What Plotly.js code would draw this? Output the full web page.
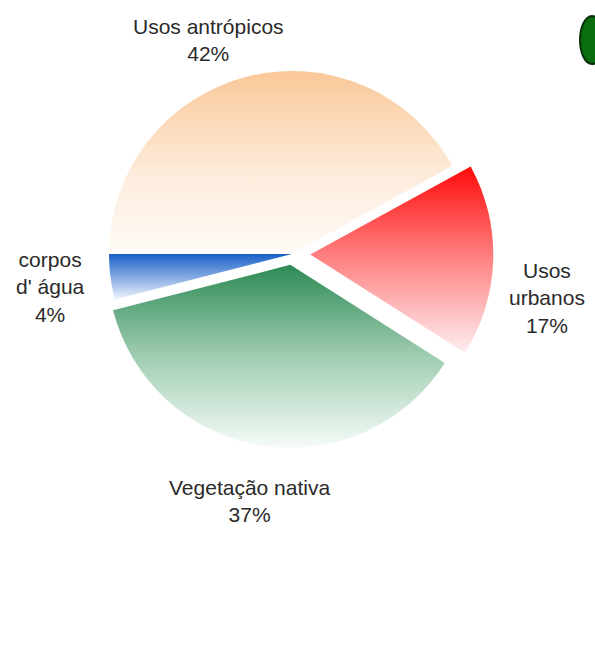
<!DOCTYPE html>
<html>
<head>
<meta charset="utf-8">
<script src="https://cdn.plot.ly/plotly-3.0.1.min.js"></script>
<style>html,body{margin:0;padding:0;background:#fff;}#chart{width:595px;height:645px;}</style>
</head>
<body>
<div id="chart"></div>
<script>
// Data
const categories = ["Usos antrópicos", "Usos urbanos", "Vegetação nativa", "corpos d' água"];
const labelTexts = ["Usos antrópicos", "Usos<br>urbanos", "Vegetação nativa", "corpos<br>d' água"];
const values = [42, 17, 37, 4];
const percentLabels = ["42%", "17%", "37%", "4%"];

// Styling
const baseColors = ["#F9C794", "#FF1010", "#2F8C58", "#1E5FC8"];
const gradients = [
  [[0, "rgb(249,200,152)"], [0.55, "rgb(253,235,218)"], [1, "rgb(255,251,247)"]],
  [[0, "rgb(255,10,10)"], [0.45, "rgb(255,120,120)"], [1, "rgb(255,238,241)"]],
  [[0, "rgb(44,138,84)"], [0.5, "rgb(160,205,178)"], [1, "rgb(246,251,248)"]],
  [[0, "rgb(25,95,200)"], [1, "rgb(238,244,252)"]]
];

const W = 595, H = 645;
const cx = 292, cy = 254, r = 183, maxPull = 0.1;
const half = r * (1 + maxPull);

const trace = {
  type: "pie",
  labels: categories,
  values: values,
  sort: false,
  direction: "clockwise",
  rotation: -90,
  pull: [0, 0.1, 0.06, 0],
  textinfo: "none",
  hoverinfo: "label+percent",
  marker: { colors: baseColors, line: { width: 0 } },
  domain: {
    x: [(cx - half) / W, (cx + half) / W],
    y: [1 - (cy + half) / H, 1 - (cy - half) / H]
  },
  showlegend: false
};

const labelPos = [[209, 40], [547, 298], [249, 501], [50, 287]];
const annotations = labelTexts.map((t, i) => ({
  text: t + "<br>" + percentLabels[i],
  xref: "paper", yref: "paper",
  x: labelPos[i][0] / W, y: 1 - labelPos[i][1] / H,
  xanchor: "center", yanchor: "middle",
  showarrow: false,
  align: "center",
  font: { family: "Liberation Sans, Arial, sans-serif", size: 21, color: "#2a2a2a" }
}));

const layout = {
  width: W, height: H,
  margin: { l: 0, r: 0, t: 0, b: 0 },
  paper_bgcolor: "#ffffff",
  annotations: annotations,
  shapes: [{
    type: "circle", xref: "paper", yref: "paper",
    x0: 580 / W, x1: 604 / W, y0: 1 - 64 / H, y1: 1 - 16 / H,
    fillcolor: "#0a6e0e", line: { color: "#083008", width: 2 }
  }]
};

function applyGradients() {
  const svg = document.querySelector("#chart .main-svg");
  if (!svg) return;
  let defs = svg.querySelector("defs#pieGrads");
  if (!defs) {
    defs = document.createElementNS("http://www.w3.org/2000/svg", "defs");
    defs.setAttribute("id", "pieGrads");
    svg.insertBefore(defs, svg.firstChild);
    gradients.forEach((stops, i) => {
      const lg = document.createElementNS("http://www.w3.org/2000/svg", "linearGradient");
      lg.setAttribute("id", "pg" + i);
      lg.setAttribute("x1", "0"); lg.setAttribute("y1", "0");
      lg.setAttribute("x2", "0"); lg.setAttribute("y2", "1");
      stops.forEach(s => {
        const st = document.createElementNS("http://www.w3.org/2000/svg", "stop");
        st.setAttribute("offset", s[0]);
        st.setAttribute("stop-color", s[1]);
        lg.appendChild(st);
      });
      defs.appendChild(lg);
    });
  }
  const paths = document.querySelectorAll("#chart g.slice path.surface");
  paths.forEach((p, i) => { p.style.fill = "url(#pg" + (i % gradients.length) + ")"; });
}

Plotly.newPlot("chart", [trace], layout, { displayModeBar: false, staticPlot: true }).then(() => {
  applyGradients();
  const el = document.getElementById("chart");
  if (el.on) el.on("plotly_afterplot", applyGradients);
});
</script>
</body>
</html>
